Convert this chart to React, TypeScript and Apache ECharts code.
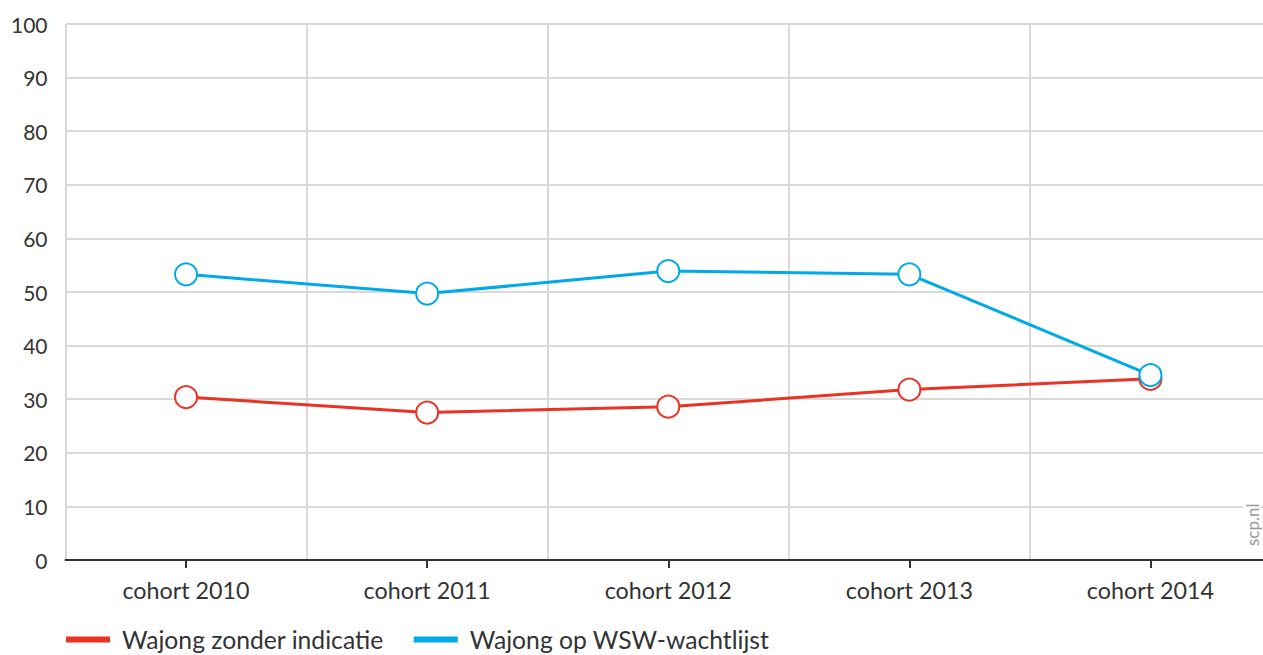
import React, { useEffect, useRef } from "react";
import * as echarts from "echarts";

const categories = ["cohort 2010", "cohort 2011", "cohort 2012", "cohort 2013", "cohort 2014"];
const seriesNames = ["Wajong zonder indicatie", "Wajong op WSW-wachtlijst"];
const redValues = [30.4, 27.5, 28.6, 31.8, 33.8];
const blueValues = [53.3, 49.7, 53.9, 53.3, 34.5];
const yTicks = { min: 0, max: 100, interval: 10 };

const FONT = "Lato, sans-serif";
const RED = "#ea3323";
const BLUE = "#00a9ea";

export default function App() {
  const ref = useRef<HTMLDivElement>(null);
  useEffect(() => {
    const chart = echarts.init(ref.current!, null, { renderer: "svg" });
    const mkSeries = (name: string, data: number[], color: string, z: number) => ({
      name,
      type: "line",
      data,
      z,
      symbol: "circle",
      symbolSize: 22,
      showSymbol: true,
      lineStyle: { color, width: 3 },
      itemStyle: { color: "#fff", borderColor: color, borderWidth: 2 },
      emphasis: { disabled: true },
    });
    chart.setOption({
      animation: false,
      textStyle: { fontFamily: FONT },
      grid: { left: 65.5, right: 0, top: 24, bottom: 95, containLabel: false },
      legend: {
        left: 61,
        top: 622,
        itemWidth: 42,
        itemHeight: 4,
        itemGap: 30,
        icon: "rect",
        data: [
          { name: seriesNames[0], itemStyle: { color: RED } },
          { name: seriesNames[1], itemStyle: { color: BLUE } },
        ],
        textStyle: { fontSize: 24.7, color: "#333", fontFamily: FONT, padding: [0, 0, 0, 8] },
      },
      xAxis: {
        type: "category",
        data: categories,
        boundaryGap: true,
        axisLine: { show: true, lineStyle: { color: "#333", width: 2 } },
        axisTick: { show: true, alignWithLabel: true, length: 8, lineStyle: { color: "#333", width: 2 } },
        axisLabel: { fontSize: 23.3, color: "#333", margin: 18, fontFamily: FONT },
        splitLine: { show: true, lineStyle: { color: "#d9d9d9", width: 2 } },
      },
      yAxis: {
        type: "value",
        min: yTicks.min,
        max: yTicks.max,
        interval: yTicks.interval,
        axisLine: { show: false },
        axisTick: { show: false },
        axisLabel: { fontSize: 21, color: "#333", margin: 18, fontFamily: FONT },
        splitLine: { show: true, lineStyle: { color: "#d9d9d9", width: 2 } },
      },
      graphic: [
        {
          type: "text",
          x: 1252,
          y: 548,
          rotation: Math.PI / 2,
          z: 100,
          style: {
            text: "scp.nl",
            fill: "#9a9a9a",
            font: `17px ${FONT}`,
            backgroundColor: "#fff",
            padding: [0, 2],
            align: "left",
            verticalAlign: "middle",
          },
        },
      ],
      series: [
        mkSeries(seriesNames[0], redValues, RED, 2),
        mkSeries(seriesNames[1], blueValues, BLUE, 3),
      ],
    });
    return () => chart.dispose();
  }, []);
  return (
    <div
      ref={ref}
      style={{ position: "fixed", left: 0, top: 0, width: 1271, height: 655, background: "#fff" }}
    />
  );
}
